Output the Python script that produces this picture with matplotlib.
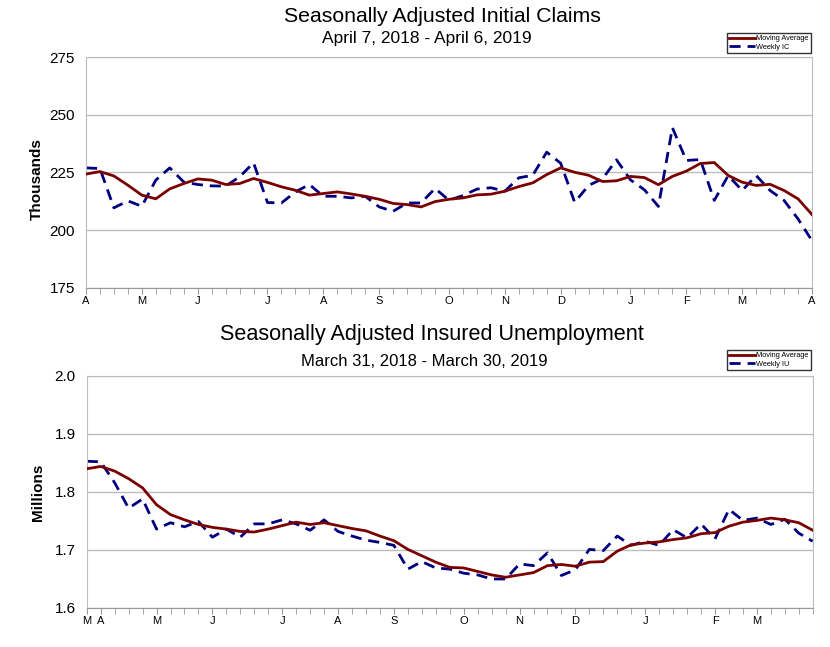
import matplotlib.pyplot as plt
import numpy as np

# weekly initial claims (thousands), Apr 7 2018 - Apr 6 2019
ic_ma = [224.3, 225.4, 223.5, 219.5, 215.2, 213.6, 217.9, 220.2, 222.2, 221.7,
         219.8, 220.2, 222.4, 220.7, 218.8, 217.3, 215.2, 215.9, 216.6, 215.7,
         214.7, 213.4, 211.6, 211.1, 210.1, 212.4, 213.4, 214.0, 215.3, 215.6,
         216.9, 218.9, 220.5, 224.1, 227.0, 225.1, 223.8, 221.1, 221.4, 223.3,
         222.8, 219.7, 223.3, 225.6, 228.9, 229.3, 223.7, 220.8, 219.4, 219.9,
         217.2, 213.6, 206.8]
ic_weekly = [227.0, 226.7, 209.7, 212.7, 210.4, 221.7, 227.0, 220.9, 219.8, 219.2,
             219.1, 223.1, 229.2, 212.0, 211.8, 216.6, 219.8, 214.7, 214.7, 214.0,
             214.7, 210.1, 208.2, 211.8, 211.8, 218.1, 213.0, 215.0, 217.8, 218.4,
             216.9, 222.7, 223.8, 233.8, 229.0, 212.1, 219.4, 222.3, 230.5, 221.8,
             217.5, 210.3, 244.4, 230.2, 230.6, 212.9, 223.7, 217.2, 223.7, 217.2,
             212.9, 204.9, 195.5]
ic_month_pos = [0, 4, 8, 13, 17, 21, 26, 30, 34, 39, 43, 47, 52]
ic_month_lbl = ["A", "M", "J", "J", "A", "S", "O", "N", "D", "J", "F", "M", "A"]

# weekly insured unemployment (millions), Mar 31 2018 - Mar 30 2019
iu_ma = [1.840, 1.844, 1.836, 1.823, 1.807, 1.778, 1.761, 1.752, 1.744, 1.739,
         1.736, 1.732, 1.731, 1.736, 1.742, 1.748, 1.744, 1.747, 1.742, 1.737,
         1.733, 1.724, 1.716, 1.701, 1.690, 1.679, 1.670, 1.669, 1.663, 1.657,
         1.653, 1.657, 1.661, 1.673, 1.675, 1.672, 1.679, 1.680, 1.698, 1.709,
         1.712, 1.714, 1.718, 1.721, 1.728, 1.730, 1.741, 1.748, 1.751, 1.755,
         1.752, 1.747, 1.734]
iu_weekly = [1.853, 1.852, 1.816, 1.772, 1.788, 1.736, 1.747, 1.740, 1.749, 1.722,
             1.736, 1.722, 1.745, 1.745, 1.752, 1.745, 1.734, 1.752, 1.732, 1.724,
             1.717, 1.713, 1.708, 1.667, 1.680, 1.669, 1.667, 1.660, 1.657, 1.650,
             1.650, 1.676, 1.673, 1.695, 1.656, 1.666, 1.701, 1.699, 1.724, 1.708,
             1.715, 1.708, 1.735, 1.721, 1.745, 1.719, 1.770, 1.751, 1.755, 1.744,
             1.753, 1.729, 1.715]
iu_month_pos = [0, 1, 5, 9, 14, 18, 22, 27, 31, 35, 40, 45, 48]
iu_month_lbl = ["M", "A", "M", "J", "J", "A", "S", "O", "N", "D", "J", "F", "M"]

RED = "#7b0000"
BLUE = "#00007f"
GRID = "#bdbdbd"

plt.rcParams['font.family'] = ['Liberation Sans', 'DejaVu Sans']

fig = plt.figure(figsize=(8.3, 6.47), dpi=100)


def draw_panel(ax, ma, weekly, pos, lbl, ylim, yticks, yfmt, ylabel, wlabel):
    x = np.arange(len(ma))
    ax.plot(x, ma, color=RED, lw=2.0, label="Moving Average", zorder=3)
    ax.plot(x, weekly, color=BLUE, lw=2.0, dashes=(4, 2.5), label=wlabel, zorder=2)
    ax.set_xlim(0, len(ma) - 1)
    ax.set_ylim(*ylim)
    ax.set_yticks(yticks)
    ax.set_yticklabels([yfmt % v for v in yticks], fontsize=11)
    ax.tick_params(axis='y', length=0, pad=8)
    ax.set_xticks(x, minor=True)
    ax.set_xticks(pos)
    ax.set_xticklabels(lbl, fontsize=8)
    ax.tick_params(axis='x', which='both', length=4, color="#999999", pad=2)
    ax.grid(axis='y', color=GRID, lw=1)
    for s in ax.spines.values():
        s.set_color(GRID)
    ax.spines['bottom'].set_color("#999999")
    ax.set_ylabel(ylabel, fontsize=11, fontweight='bold')
    ax.yaxis.set_label_coords(-0.058, 0.47)


ax1 = fig.add_axes([0.1036, 0.5549, 0.8747, 0.357])
draw_panel(ax1, ic_ma, ic_weekly, ic_month_pos, ic_month_lbl, (175, 275),
           [175, 200, 225, 250, 275], "%d", "Thousands", "Weekly IC")
ax1.legend(loc='upper right', bbox_to_anchor=(811 / 830, 1 - 33 / 647),
           bbox_transform=fig.transFigure, fontsize=5.3, frameon=True,
           fancybox=False, edgecolor="black", handlelength=3.5, borderpad=0.3,
           labelspacing=0.2, handletextpad=0.2, borderaxespad=0)

ax2 = fig.add_axes([0.1045, 0.0603, 0.8747, 0.3586])
draw_panel(ax2, iu_ma, iu_weekly, iu_month_pos, iu_month_lbl, (1.6, 2.0),
           [1.6, 1.7, 1.8, 1.9, 2.0], "%.1f", "Millions", "Weekly IU")
ax2.yaxis.set_label_coords(-0.058, 0.50)
ax2.legend(loc='upper right', bbox_to_anchor=(811 / 830, 1 - 350 / 647),
           bbox_transform=fig.transFigure, fontsize=5.3, frameon=True,
           fancybox=False, edgecolor="black", handlelength=3.5, borderpad=0.3,
           labelspacing=0.2, handletextpad=0.2, borderaxespad=0)

fig.text(442 / 830, 1 - 17 / 647, "Seasonally Adjusted Initial Claims",
         ha='center', va='center', fontsize=15.3)
fig.text(427 / 830, 1 - 38 / 647, "April 7, 2018 - April 6, 2019",
         ha='center', va='center', fontsize=12.5)
fig.text(432 / 830, 1 - 334 / 647, "Seasonally Adjusted Insured Unemployment",
         ha='center', va='center', fontsize=15.6)
fig.text(424 / 830, 1 - 362 / 647, "March 31, 2018 - March 30, 2019",
         ha='center', va='center', fontsize=12)

fig.savefig("out.png", dpi=100)
